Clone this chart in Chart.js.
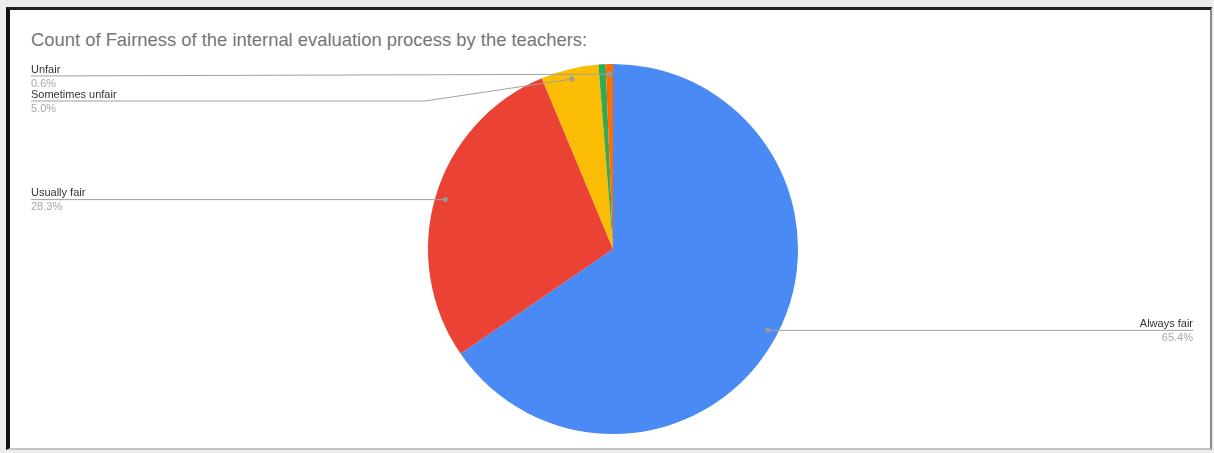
<!DOCTYPE html>
<html>
<head>
<meta charset="utf-8">
<script src="https://cdn.jsdelivr.net/npm/chart.js@4"></script>
<style>
  html, body { margin: 0; padding: 0; background: #ececec; }
  #wrap { position: relative; width: 1214px; height: 453px; overflow: hidden; }
  #frame {
    position: absolute; left: 6px; top: 7px; width: 1200px; height: 438px;
    background: #fff;
    border-left: 4px solid #111; border-top: 3px solid #222;
    border-right: 2px solid #8a8a8a; border-bottom: 2px solid #c4c4c4;
  }
  #title {
    position: absolute; left: 31px; top: 29px;
    font-family: "Liberation Sans", Arial, sans-serif; font-size: 18.4px; color: #757575;
  }
  #chart_1 { position: absolute; left: 0; top: 0; }
</style>
</head>
<body>
<div id="wrap">
  <div id="frame"></div>
  <div id="title">Count of Fairness of the internal evaluation process by the teachers:</div>
  <canvas id="chart_1" width="1214" height="453"></canvas>
</div>
<script>
const labels = ["Always fair", "Usually fair", "Sometimes unfair", "Sometimes fair", "Unfair"];
const counts = [104, 45, 8, 1, 1];
const colors = ["#4a8af4", "#ea4335", "#fbbc04", "#34a853", "#ff6d01"];
// labels Google hid because the slice was too thin
const hiddenLabels = [3];

const total = counts.reduce((a, b) => a + b, 0);

// leader lines + two line labels, like the Sheets pie
const sideLabels = {
  id: "sideLabels",
  afterDraw(chart) {
    const ctx = chart.ctx;
    const arcs = chart.getDatasetMeta(0).data;
    const left = [], right = [];
    arcs.forEach((arc, i) => {
      if (hiddenLabels.includes(i)) return;
      const mid = (arc.startAngle + arc.endAngle) / 2;
      const r = arc.outerRadius * 0.945;
      const ax = arc.x + Math.cos(mid) * r;
      const ay = arc.y + Math.sin(mid) * r;
      const item = { i, ax, ay, y: ay, cx: arc.x, R: arc.outerRadius };
      (Math.cos(mid) < 0 ? left : right).push(item);
    });
    // push overlapping labels downward
    [left, right].forEach(list => {
      list.sort((a, b) => a.ay - b.ay);
      if (list.length && list[0].y < 76) list[0].y = 76;
      for (let k = 1; k < list.length; k++) {
        if (list[k].y < list[k - 1].y + 25) list[k].y = list[k - 1].y + 25;
      }
    });
    ctx.save();
    ctx.strokeStyle = "#a0a0a0";
    ctx.lineWidth = 1;
    const draw = (it, side) => {
      const endX = side === "left" ? 31 : 1193;
      ctx.beginPath();
      ctx.moveTo(it.ax, it.ay);
      if (Math.abs(it.y - it.ay) > 3) {
        const kx = side === "left" ? it.cx - it.R - 3 : it.cx + it.R + 3;
        ctx.lineTo(kx, it.y);
      }
      ctx.lineTo(endX, it.y);
      ctx.stroke();
      ctx.fillStyle = "#9a9a9a";
      ctx.beginPath();
      ctx.arc(it.ax, it.ay, 2.5, 0, Math.PI * 2);
      ctx.fill();
      ctx.textAlign = side;
      ctx.font = "11px 'Liberation Sans', Arial, sans-serif";
      ctx.textBaseline = "bottom";
      ctx.fillStyle = "#333";
      ctx.fillText(labels[it.i], endX, it.y - 1);
      ctx.textBaseline = "top";
      ctx.fillStyle = "#a8a8a8";
      ctx.fillText((counts[it.i] / total * 100).toFixed(1) + "%", endX, it.y + 2);
    };
    left.forEach(it => draw(it, "left"));
    right.forEach(it => draw(it, "right"));
    ctx.restore();
  }
};

new Chart(document.getElementById("chart_1"), {
  type: "pie",
  data: {
    labels: labels,
    datasets: [{
      data: counts,
      backgroundColor: colors,
      borderWidth: 0,
    }],
  },
  options: {
    responsive: false,
    animation: false,
    layout: { padding: { top: 64, bottom: 19, left: 12, right: 0 } },
    plugins: {
      legend: { display: false },
      tooltip: { enabled: false },
    },
  },
  plugins: [sideLabels],
});
</script>
</body>
</html>
